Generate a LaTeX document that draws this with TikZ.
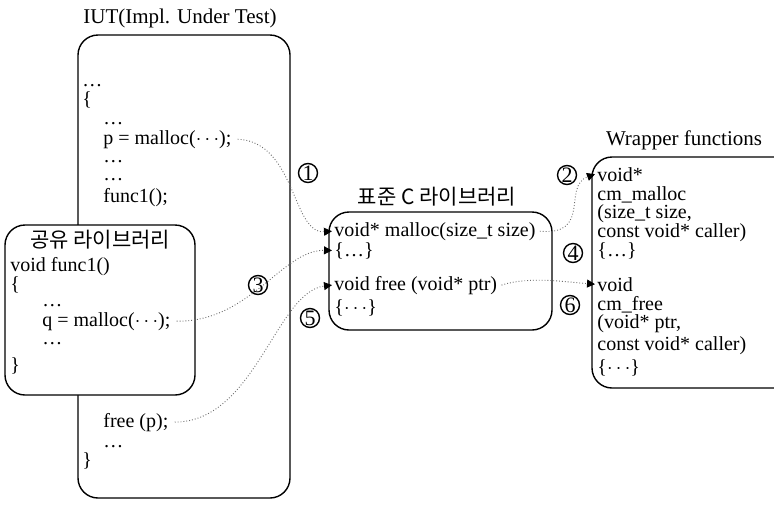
\documentclass[tikz,border=0pt]{standalone}
\usepackage{fontspec}
\setmainfont{Liberation Serif}
\newfontfamily\krfont{Noto Sans CJK KR}
\usepackage{tikz}
\usetikzlibrary{arrows.meta}
\definecolor{wire}{RGB}{110, 110, 110}

\begin{document}
\begin{tikzpicture}[x=0.5pt, y=-0.5pt, font=\fontsize{10.5}{12}\selectfont,
  box/.style={draw, line width=0.7pt, rounded corners=10pt, fill=white},
  code/.style={anchor=base west, inner sep=0pt, font=\fontsize{10}{12}\selectfont},
  kr/.style={font=\krfont\fontsize{10.5}{12}\selectfont},
  num/.style={circle, draw, line width=0.7pt, inner sep=0pt, minimum size=9.5pt, font=\fontsize{11}{11}\selectfont},
  call/.style={wire, line width=0.45pt, densely dotted, -{Triangle[black, length=4pt, width=4pt]}}]
  \useasboundingbox (0,0) rectangle (774,504);
  \clip (0,0) rectangle (774,504);

  % boxes
  \draw[box] (78,35) rectangle (290,498);
  \draw[box] (5,225) rectangle (195,395);
  \draw[box] (329,212) rectangle (552,330);
  \draw[box] (592,157) rectangle (800,388);

  \node (iuttitle) at (180,18) {IUT(Impl. Under Test)};
  \node[kr] (shtitle) at (100,240) {공유 라이브러리};
  \node[kr] (cltitle) at (437,197) {표준 C 라이브러리};
  \node (wtitle) at (684,140) {Wrapper functions};

  % IUT code
  \foreach \x/\y/\t in {82/86/\ldots, 82/105/\{, 103/124/\ldots, 103/162/\ldots, 103/180/\ldots, 103/202/func1();, 103/447/\ldots, 82/466/\}}
    \node[code] (iut\y) at (\x,\y) {\t};
  \node[code] (pmal) at (103,144) {p = malloc($\cdots$);};
  \node[code] (freep) at (103,427) {free (p);};

  % shared library code
  \foreach \x/\y/\t in {10/271/void func1(), 10/290/\{, 42/306/\ldots, 42/344/\ldots, 10/371/\}}
    \node[code] (sh\y) at (\x,\y) {\t};
  \node[code] (qmal) at (42,326) {q = malloc($\cdots$);};

  % standard C library code
  \node[code] (clmal) at (334,236) {void* malloc(size\_t size)};
  \node[code] (cldots) at (334,256) {\{\ldots\}};
  \node[code] (clfree) at (334,290) {void free (void* ptr)};
  \node[code] (clend) at (334,313) {\{$\cdots$\}};

  % wrapper code
  \node[code] (wvoidp) at (597,181) {void*};
  \foreach \y/\t in {200/cm\_malloc, 218/{(size\_t size,}, 237/const void* caller), 256/\{\ldots\}, 310/cm\_free, 328/{(void* ptr,}, 350/const void* caller), 373/\{$\cdots$\}}
    \node[code] (w\y) at (597,\y) {\t};
  \node[code] (wvoid) at (597,291) {void};

  % calls
  \draw[call] ([xshift=3pt]pmal.east) .. controls (296,142) and (292,234) .. ([xshift=-1pt]clmal.west);
  \draw[call] ([xshift=3pt]qmal.east) .. controls (250,322) and (282,250) .. ([xshift=-1pt]cldots.west);
  \draw[call] ([xshift=3pt]freep.east) .. controls (255,422) and (276,292) .. ([xshift=-1pt]clfree.west);
  \draw[call] ([xshift=2pt]clmal.east) .. controls (592,236) and (562,186) .. ([xshift=-1pt]wvoidp.west);
  \draw[call] ([xshift=2pt]clfree.east) .. controls (530,276) and (565,282) .. ([xshift=-1pt]wvoid.west);

  \foreach \n/\x/\y in {1/308/173, 2/567/175, 3/258/285, 4/573/253, 5/310/318, 6/570/305}
    \node[num] (n\n) at (\x,\y) {\n};
\end{tikzpicture}
\end{document}
